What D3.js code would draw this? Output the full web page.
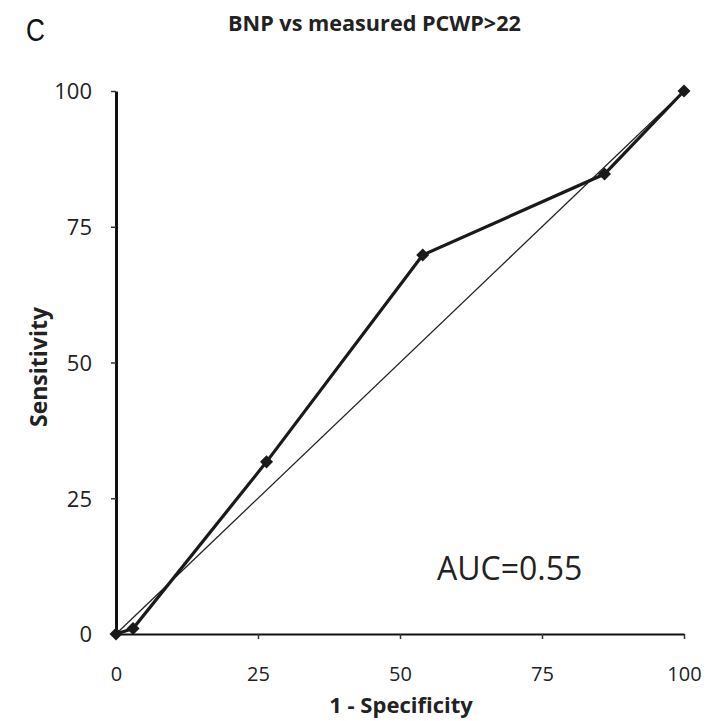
<!DOCTYPE html>
<html><head><meta charset="utf-8">
<script src="https://cdn.jsdelivr.net/npm/d3@7"></script>
<style>body{margin:0;background:#fff}</style>
</head><body>
<svg id="c" width="722" height="721"></svg>
<script>
const fpr = [0, 3, 26.5, 54, 86, 100];
const sens = [0, 1, 31.7, 69.8, 84.7, 100];
const ticks = [0, 25, 50, 75, 100];
const diag = [[0,0],[100,100]];

const svg = d3.select("#c");
const x = d3.scaleLinear().domain([0,100]).range([116,684]);
const y = d3.scaleLinear().domain([0,100]).range([634,91]);
const font = "'Open Sans', sans-serif";

// axes
const xa = svg.append("g").attr("transform","translate(0,634)")
  .call(d3.axisBottom(x).tickValues(ticks).tickSize(5).tickPadding(28).tickSizeOuter(0));
const ya = svg.append("g").attr("transform","translate(116,0)")
  .call(d3.axisLeft(y).tickValues(ticks).tickSize(5).tickPadding(19).tickSizeOuter(0));
[xa,ya].forEach(a=>{
  a.selectAll("text").attr("font-family",font).attr("fill","#222");
  a.selectAll(".tick line").attr("stroke","#333").attr("stroke-width",1.5);
});
xa.selectAll("text").attr("font-size",20);
ya.selectAll("text").attr("font-size",22).attr("dy","0.36em");
xa.select(".domain").attr("stroke","#111").attr("stroke-width",2);
ya.select(".domain").attr("stroke","#111").attr("stroke-width",3);

// diagonal
svg.append("line").attr("x1",x(diag[0][0])).attr("y1",y(diag[0][1]))
  .attr("x2",x(diag[1][0])).attr("y2",y(diag[1][1]))
  .attr("stroke","#222").attr("stroke-width",1.3);

// ROC
const pts = fpr.map((d,i)=>[d,sens[i]]);
svg.append("path").datum(pts)
  .attr("d",d3.line().x(d=>x(d[0])).y(d=>y(d[1])))
  .attr("fill","none").attr("stroke","#1a1a1a").attr("stroke-width",3.2);
svg.selectAll(".m").data(pts).enter().append("path")
  .attr("transform",d=>`translate(${x(d[0])},${y(d[1])}) rotate(45)`)
  .attr("d",d3.symbol(d3.symbolSquare,85)())
  .attr("fill","#1a1a1a");

// texts
svg.append("text").attr("transform","translate(26,41) scale(0.82,1)")
  .attr("font-family","'Liberation Sans', Arial, sans-serif")
  .attr("font-size",32).attr("fill","#111").text("C");
svg.append("text").attr("x",228).attr("y",31)
  .attr("font-family",font).attr("font-weight","bold").attr("font-size",22)
  .attr("textLength",293).attr("lengthAdjust","spacingAndGlyphs")
  .attr("fill","#222").text("BNP vs measured PCWP>22");
svg.append("text").attr("x",401).attr("y",713).attr("text-anchor","middle")
  .attr("font-family",font).attr("font-weight","bold").attr("font-size",22)
  .attr("fill","#222").text("1 - Specificity");
svg.append("text").attr("transform","translate(47,367) rotate(-90)").attr("text-anchor","middle")
  .attr("font-family",font).attr("font-weight","bold").attr("font-size",23)
  .attr("fill","#222").text("Sensitivity");
svg.append("text").attr("x",437).attr("y",580)
  .attr("font-family",font).attr("font-size",32).attr("fill","#222").text("AUC=0.55");
</script>
</body></html>
